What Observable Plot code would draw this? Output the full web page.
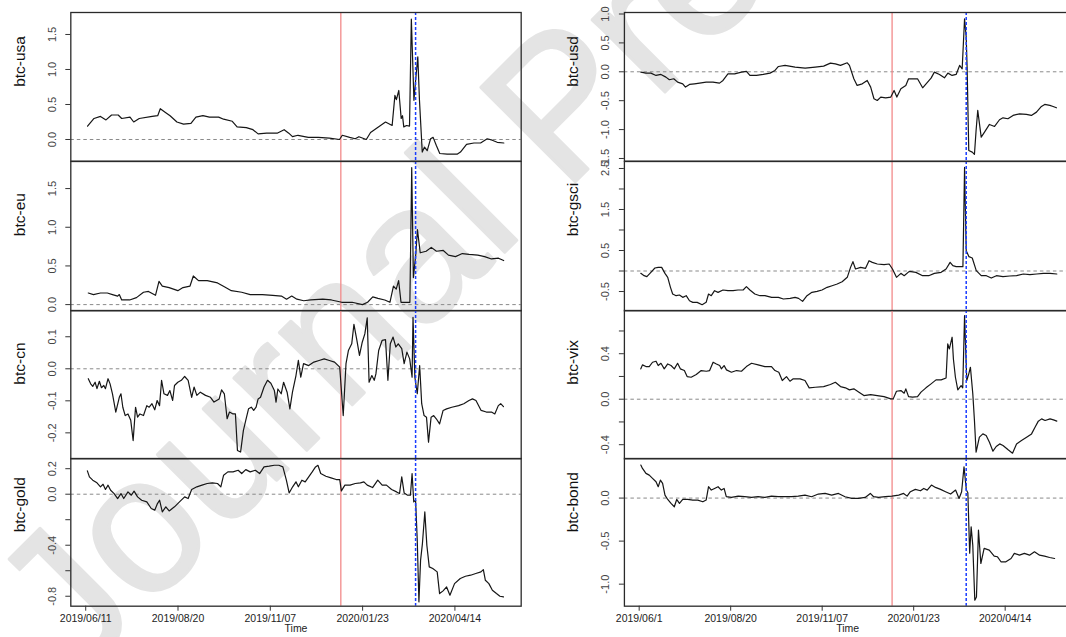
<!DOCTYPE html>
<html>
<head>
<meta charset="utf-8">
<script src="https://cdn.jsdelivr.net/npm/d3@7"></script>
<script src="https://cdn.jsdelivr.net/npm/@observablehq/plot@0.6"></script>
<style>
  html, body { margin: 0; padding: 0; background: #fff; }
  body { width: 1066px; height: 637px; overflow: hidden; position: relative; font-family: "Liberation Sans", Arial, sans-serif; }
  #wm { position: absolute; left: 0; top: 0; pointer-events: none; }
  #chart { position: absolute; left: 0; top: 0; width: 1066px; height: 637px; }
</style>
</head>
<body>
<svg id="wm" width="1066" height="637">
  <text transform="translate(76,681) rotate(-45)" font-size="194" font-weight="normal" font-family="Liberation Sans, Arial, sans-serif" fill="#e4e4e4" stroke="#e4e4e4" stroke-width="3" stroke-linejoin="round">Journal Pre-proof</text>
</svg>
<div id="chart"></div>
<script>
// ---- data: [observation index, value] ----
const usa = [[2,0.19],[5.5,0.30],[9,0.33],[12,0.28],[15,0.35],[18.6,0.35],[20.5,0.30],[25,0.32],[27,0.25],[30,0.30],[37,0.33],[40,0.34],[41.4,0.44],[44,0.39],[46.7,0.34],[50.4,0.25],[54,0.22],[58,0.23],[60.7,0.32],[64.5,0.34],[68,0.32],[73,0.32],[75.7,0.29],[80.4,0.26],[83,0.18],[88,0.17],[91.6,0.14],[94.4,0.08],[99,0.09],[104.7,0.09],[108.5,0.14],[111,0.09],[113,0.04],[116,0.06],[121.6,0.03],[127,0.03],[133,0.02],[138.5,0.0],[140,0.06],[144,0.03],[147,0.01],[149,0.04],[153,0.0],[155.3,0.10],[160.7,0.20],[163.4,0.25],[167,0.20],[168.5,0.63],[169.3,0.57],[170.6,0.70],[171.9,0.30],[172.6,0.34],[173.3,0.18],[174.8,0.20],[176.4,0.19],[177.4,1.72],[178.8,0.56],[179.7,0.84],[180.9,1.18],[181.8,0.56],[183.3,-0.18],[184.5,-0.11],[186,-0.16],[187.8,0.01],[189.2,0.03],[191,-0.09],[192.8,-0.20],[196.8,-0.21],[202.2,-0.21],[204,-0.18],[207.3,-0.07],[211.3,-0.05],[214.9,-0.05],[218.5,0.01],[221.2,-0.01],[223.9,-0.04],[227.5,-0.05]];

const eu = [[2.4,0.15],[5.2,0.13],[9,0.15],[12.7,0.15],[15.5,0.13],[18.3,0.11],[19.2,0.13],[20.5,0.06],[24.8,0.06],[28.5,0.09],[32.3,0.16],[35,0.17],[38.8,0.12],[40.7,0.30],[42.5,0.24],[46.2,0.22],[50.9,0.18],[53.7,0.22],[57.5,0.24],[59.3,0.37],[62.1,0.31],[66.8,0.31],[72.4,0.28],[76.1,0.23],[79.9,0.18],[85.5,0.16],[90.1,0.13],[96.7,0.13],[102.3,0.12],[107,0.11],[109.8,0.07],[112.6,0.11],[115.4,0.07],[119.1,0.05],[122.9,0.06],[129.4,0.07],[134.1,0.06],[139.7,0.03],[145.3,0.03],[150.9,0.0],[153.7,0.03],[156.5,0.10],[159.3,0.08],[163,0.06],[165.8,0.03],[167.7,0.24],[169.2,0.20],[170.5,0.31],[171.8,0.03],[175.2,0.03],[176.6,0.03],[177.6,1.77],[178.5,0.35],[179.8,0.65],[180.7,0.97],[182.2,0.67],[185.4,0.69],[188.2,0.74],[191,0.69],[194.7,0.70],[197.5,0.64],[201.3,0.62],[205,0.66],[208.7,0.65],[213.4,0.64],[217.1,0.62],[220.8,0.59],[224.6,0.60],[227.4,0.57]];

const cn = [[2.4,-0.031],[3.7,-0.047],[4.8,-0.055],[6.1,-0.042],[7.1,-0.062],[8.4,-0.039],[9.5,-0.059],[10.8,-0.052],[11.7,-0.062],[13.1,-0.031],[14.2,-0.047],[15.5,-0.078],[17.3,-0.135],[19.2,-0.089],[20.1,-0.078],[21.1,-0.12],[22.4,-0.146],[23.9,-0.141],[25.4,-0.161],[26.7,-0.224],[28,-0.12],[29.1,-0.151],[30.4,-0.141],[32.3,-0.146],[34.1,-0.115],[35.4,-0.12],[36.9,-0.109],[38.4,-0.128],[39.7,-0.099],[41,-0.115],[42.1,-0.036],[43.4,-0.078],[45.3,-0.083],[46.6,-0.068],[48.1,-0.099],[49.1,-0.052],[50.9,-0.042],[52.8,-0.036],[54.6,-0.024],[56.5,-0.036],[58.4,-0.089],[59.7,-0.057],[61.2,-0.083],[63.1,-0.073],[65.9,-0.083],[68.6,-0.089],[70.5,-0.104],[73.3,-0.094],[74.6,-0.066],[76.1,-0.078],[77.6,-0.156],[78.9,-0.135],[80.8,-0.141],[82.1,-0.141],[83.2,-0.255],[84.9,-0.26],[86.4,-0.193],[87.7,-0.161],[89.2,-0.125],[90.7,-0.12],[92,-0.13],[93.3,-0.12],[94.4,-0.094],[95.7,-0.089],[97.6,-0.057],[99.5,-0.036],[101.3,-0.045],[103.2,-0.068],[104.1,-0.104],[105.1,-0.063],[106.9,-0.078],[108.2,-0.042],[110.1,-0.073],[111.6,-0.125],[113,-0.073],[114.9,-0.021],[116.2,0.026],[117.5,-0.026],[119,0.016],[121.8,0.01],[124.6,0.021],[127.4,0.026],[130.2,0.031],[133,0.026],[135.8,0.021],[138.6,0.005],[140.5,-0.146],[142,0.016],[143.3,0.057],[145.1,0.078],[146.3,0.139],[147.9,0.089],[149.3,0.042],[150.8,0.083],[152.2,0.109],[153.5,0.159],[154.5,-0.042],[156,-0.021],[157.3,-0.036],[158.2,-0.016],[159.7,0.057],[161.6,0.089],[163.4,0.091],[164.7,-0.036],[166,0.078],[167.5,0.099],[169,0.068],[170.3,0.078],[172.2,0.063],[173.5,0.016],[175,0.052],[176.5,0.031],[177.8,-0.026],[178.3,0.161],[179.3,-0.026],[180.6,-0.078],[181.9,0.01],[183,-0.109],[184.3,-0.146],[185.6,-0.151],[186.7,-0.229],[188.1,-0.151],[189.5,-0.146],[190.9,-0.156],[192.7,-0.172],[194.6,-0.13],[196.5,-0.125],[199.3,-0.12],[203,-0.115],[205.8,-0.109],[208.6,-0.099],[210.5,-0.094],[212.4,-0.099],[215.2,-0.13],[218,-0.135],[220.8,-0.135],[222.6,-0.141],[224.5,-0.115],[225.8,-0.109],[227.3,-0.118]];

const gold = [[1.9,0.183],[3,0.136],[4.8,0.11],[7.1,0.089],[9,0.058],[10.4,0.078],[11.7,0.037],[13.1,0.071],[14.5,0.031],[16.4,0.005],[18.3,-0.034],[20.1,0.005],[21.6,-0.034],[23.9,0.018],[25.7,-0.008],[27.2,0.024],[29.1,-0.021],[31.3,-0.047],[34.1,-0.06],[36.5,-0.112],[38.4,-0.125],[39.7,-0.078],[41,-0.047],[42.5,-0.139],[44.4,-0.099],[46.2,-0.131],[49.1,-0.099],[51.8,-0.06],[54.6,-0.021],[56.5,-0.034],[58.4,0.037],[61.2,0.058],[64,0.071],[66.8,0.084],[69.6,0.089],[72.4,0.084],[74.2,0.058],[75.7,0.149],[78,0.175],[80.8,0.175],[83.6,0.188],[85.5,0.162],[87.7,0.193],[90.1,0.175],[92.9,0.188],[95.2,0.162],[97.6,0.214],[100.4,0.22],[103.2,0.227],[105.6,0.227],[107.8,0.214],[109.7,0.11],[111.2,0.01],[113.1,0.058],[114.9,0.097],[116.2,0.058],[118.1,0.11],[119.9,0.097],[121.8,0.136],[123.7,0.175],[125.5,0.214],[126.8,0.227],[128.3,0.162],[131.1,0.141],[133.9,0.128],[136.7,0.115],[138.6,0.115],[139.5,0.026],[141.4,0.071],[144.2,0.071],[147,0.084],[149.8,0.089],[151.7,0.097],[153.5,0.071],[156.4,0.052],[159.2,0.11],[161.6,0.071],[163.9,0.071],[166.7,0.037],[169.4,0.018],[171,0.005],[172.2,0.136],[173.5,0.01],[175.4,-0.008],[176.9,-0.008],[177.8,0.162],[178.7,-0.06],[179.7,-0.047],[180.6,-0.361],[181.5,-0.844],[182.4,-0.518],[183.4,-0.387],[184.7,-0.139],[185.8,-0.4],[187.1,-0.57],[189,-0.583],[191.4,-0.609],[192.7,-0.779],[194.6,-0.758],[196.5,-0.727],[198.3,-0.792],[200.8,-0.701],[203.9,-0.661],[206.7,-0.643],[209.5,-0.635],[212.3,-0.622],[215.1,-0.609],[216.4,-0.591],[217.5,-0.675],[219.4,-0.701],[221.3,-0.753],[223.5,-0.779],[225.4,-0.8],[227.3,-0.805]];

const usd = [[1.9,-0.006],[4.7,-0.023],[7.4,-0.023],[10.2,-0.063],[12.9,-0.046],[15.6,-0.092],[17.5,-0.138],[19.9,-0.121],[22,-0.179],[24.8,-0.208],[26.3,-0.265],[28.5,-0.219],[31.2,-0.208],[34,-0.196],[37.6,-0.179],[41.3,-0.179],[44.9,-0.196],[46.8,-0.15],[49.5,-0.035],[53.2,-0.035],[56.9,-0.006],[59.6,0.006],[61.5,-0.063],[65.1,-0.063],[68.8,-0.046],[72.5,-0.023],[75.2,0.023],[77.1,0.092],[80.7,0.11],[86.2,0.081],[91.7,0.063],[97.2,0.081],[101.8,0.098],[105.5,0.15],[108.2,0.138],[111,0.11],[114.7,0.156],[115.9,0.11],[118.3,-0.121],[120.1,-0.236],[122.9,-0.208],[125.6,-0.15],[127.5,-0.265],[129.3,-0.467],[131.1,-0.496],[133,-0.438],[135.7,-0.45],[138.5,-0.438],[140.3,-0.323],[141.8,-0.438],[144,-0.294],[146.7,-0.236],[148.2,-0.121],[150.8,-0.121],[153.1,-0.121],[155.9,-0.277],[158.6,-0.179],[160.5,-0.11],[162.3,-0.006],[165.1,-0.046],[167.8,-0.104],[169.7,-0.023],[172,-0.063],[174.2,-0.046],[176.1,0.11],[177.5,0.052],[178.8,0.917],[179.7,0.6],[180.2,0.081],[181.1,-1.361],[183,-1.39],[184.2,-1.43],[185.1,-1.015],[186,-0.669],[187.9,-1.13],[189.7,-1.044],[192.4,-0.911],[195.2,-0.946],[197.9,-0.83],[199.8,-0.796],[202.5,-0.813],[205.3,-0.755],[208.9,-0.727],[212.6,-0.738],[215.3,-0.755],[218.1,-0.698],[220.8,-0.6],[222.6,-0.565],[225.4,-0.582],[227.2,-0.6],[229,-0.623]];

const gsci = [[1.9,-0.057],[3.7,-0.114],[5.2,-0.138],[7.4,-0.033],[9.6,0.073],[11.4,0.089],[13.3,0.089],[15.1,-0.057],[16.6,-0.154],[18.1,-0.398],[19.3,-0.561],[21.2,-0.602],[23,-0.585],[24.8,-0.642],[26.7,-0.602],[28.5,-0.724],[30.3,-0.764],[32.7,-0.764],[35.4,-0.821],[37.6,-0.764],[38.9,-0.561],[40.4,-0.602],[42.2,-0.48],[44.1,-0.52],[46.8,-0.463],[49.5,-0.48],[52.3,-0.48],[55,-0.463],[57.8,-0.463],[59.6,-0.382],[61.5,-0.463],[64.2,-0.561],[67,-0.602],[69.7,-0.602],[73.4,-0.642],[77.1,-0.642],[79.8,-0.683],[83.5,-0.667],[86.2,-0.642],[88.1,-0.667],[90.3,-0.74],[92.7,-0.602],[95.4,-0.52],[98.2,-0.496],[100.9,-0.463],[103.7,-0.398],[106.4,-0.358],[109.2,-0.317],[111.9,-0.26],[114.7,-0.154],[116.5,0.089],[117.8,0.228],[119.2,0.049],[122,0.089],[124.7,0.065],[126.6,0.252],[128.4,0.211],[131.1,0.171],[134.8,0.154],[137.6,0.171],[139.4,0.049],[141.6,-0.154],[144,-0.057],[145.8,-0.114],[148.6,-0.008],[152.2,-0.033],[155.9,-0.114],[159.2,-0.114],[162.3,-0.057],[166,-0.033],[168.7,0.049],[170.9,0.211],[172.4,0.13],[174.2,0.106],[177.9,0.106],[178.8,2.528],[179.7,0.496],[181.2,0.35],[183,0.317],[185.2,0.008],[187.9,-0.114],[190.7,-0.114],[193.4,-0.171],[196.2,-0.114],[199.8,-0.138],[203.5,-0.122],[207.2,-0.114],[210.9,-0.073],[214.5,-0.089],[218.2,-0.073],[221.9,-0.057],[225.5,-0.057],[229.2,-0.073]];

const vix = [[1.9,0.267],[2.8,0.302],[4.7,0.287],[6.5,0.287],[8.3,0.325],[10.2,0.334],[11.4,0.296],[12.9,0.316],[14.7,0.267],[16.6,0.31],[18.4,0.296],[20.2,0.267],[22,0.316],[23.5,0.267],[25.7,0.252],[27.2,0.199],[29.4,0.193],[32.2,0.217],[34.9,0.252],[37.7,0.246],[39.5,0.252],[41.4,0.325],[43.2,0.31],[45,0.296],[45.9,0.267],[47.4,0.296],[48.7,0.258],[51.4,0.237],[54.2,0.252],[56.9,0.246],[59.6,0.287],[62.4,0.316],[66,0.302],[69.7,0.287],[73.3,0.287],[75.2,0.252],[77.3,0.237],[79.2,0.164],[81.5,0.199],[83.4,0.158],[85.2,0.179],[88.9,0.179],[91.6,0.164],[93.9,0.1],[97.2,0.105],[101.8,0.111],[105.5,0.129],[108.2,0.149],[111,0.111],[113.7,0.1],[115.9,0.082],[118.3,0.091],[121.1,0.062],[123.8,0.032],[127.5,0.041],[131.1,0.032],[134.8,0.023],[138.5,0.003],[139.8,0.003],[141.6,0.07],[144,0.076],[145.8,0.053],[146.7,0.091],[148.2,0.023],[150.4,0.018],[153.1,0.023],[155,0.062],[157.7,0.1],[160.5,0.135],[163.2,0.17],[166,0.17],[168.7,0.187],[169.6,0.486],[170.5,0.442],[172,0.545],[172.7,0.354],[173.8,0.193],[175.1,0.082],[176.9,0.12],[177.8,0.1],[178.8,0.735],[180,0.164],[181.1,0.223],[182,0.281],[183.3,0.047],[184.2,-0.187],[185.1,-0.466],[186.9,-0.334],[188.8,-0.305],[190.6,-0.319],[192.4,-0.378],[194.3,-0.457],[196.1,-0.416],[198,-0.393],[199.8,-0.407],[202.6,-0.445],[205,-0.475],[207.2,-0.393],[209.9,-0.363],[212.7,-0.334],[215.4,-0.305],[217.3,-0.246],[219.1,-0.193],[220.9,-0.173],[222.8,-0.187],[225.5,-0.173],[227.4,-0.182],[229.2,-0.193]];

const bond = [[1.9,0.384],[2.8,0.345],[4.7,0.287],[6.5,0.267],[8.3,0.229],[10.2,0.19],[11.4,0.132],[12.6,0.209],[13.8,0.171],[15.1,0.035],[16.6,-0.016],[18.4,-0.062],[20.2,-0.101],[21.5,-0.016],[23,-0.062],[24.8,-0.016],[27.5,-0.016],[30.3,-0.023],[33,-0.023],[35.8,-0.043],[37.6,-0.023],[38.9,0.132],[40.4,0.093],[42.2,0.112],[44.1,0.132],[45.9,0.093],[47.4,0.112],[48.6,0.016],[51.4,0.008],[55.1,0.023],[58.7,0.016],[62.4,0.008],[66,0.016],[69.7,0.008],[73.3,0.023],[77,0.016],[80.6,0.016],[84.3,0.016],[87.9,0.023],[91.6,0.035],[95.2,0.016],[98.9,0.047],[102.6,0.054],[106.2,0.035],[109.9,0.054],[113.5,0.016],[117.2,-0.004],[120.8,-0.004],[124.5,0.008],[127.3,0.054],[129.1,0.016],[131.8,0.008],[135.5,0.016],[139.1,0.023],[142.8,0.035],[145.5,0.054],[147.4,0.023],[149.2,0.074],[151.9,0.101],[154.7,0.085],[156.5,0.112],[158.4,0.093],[160.7,0.151],[162.9,0.124],[165.7,0.101],[168.4,0.074],[171.2,0.047],[173.9,0.093],[175.8,-0.004],[177.2,0.074],[178.5,0.364],[179.8,0.093],[180.6,0.062],[181.6,-0.64],[182.4,-0.333],[183.3,-0.55],[184.4,-1.186],[185.3,-1.15],[186.4,-0.372],[187.7,-0.76],[189.5,-0.585],[192.3,-0.605],[195,-0.674],[196.8,-0.682],[198.7,-0.74],[201.4,-0.74],[204.2,-0.702],[206,-0.643],[208.8,-0.663],[211.5,-0.643],[214.3,-0.663],[217,-0.624],[219.8,-0.663],[222.5,-0.674],[225.3,-0.69],[228,-0.702]];

// event markers (observation index)
const redEvent = [139.2];
const blueEvent = [179.7];

// x ticks
const xTicks = [1, 51, 101, 151, 201];
const xLabelsLeft = ["2019/06/11", "2019/08/20", "2019/11/07", "2020/01/23", "2020/04/14"];
const xLabelsRight = ["2019/06/1", "2019/08/20", "2019/11/07", "2020/01/23", "2020/04/14"];
const xDomain = [-7.07, 236.9];

// y ticks per panel and which ones carry a label
const panels = [
  {name: "btc-usa",  data: usa,  col: 0, row: 0, domain: [-0.31, 1.814], ticks: [0, 0.5, 1, 1.5], labeled: [0, 0.5, 1, 1.5]},
  {name: "btc-eu",   data: eu,   col: 0, row: 1, domain: [-0.08, 1.85],  ticks: [0, 0.5, 1, 1.5], labeled: [0, 0.5, 1, 1.5]},
  {name: "btc-cn",   data: cn,   col: 0, row: 2, domain: [-0.281, 0.182], ticks: [-0.2, -0.1, 0, 0.1], labeled: [-0.2, -0.1, 0, 0.1]},
  {name: "btc-gold", data: gold, col: 0, row: 3, domain: [-0.878, 0.28], ticks: [-0.8, -0.6, -0.4, -0.2, 0, 0.2], labeled: [-0.8, -0.4, 0, 0.2]},
  {name: "btc-usd",  data: usd,  col: 1, row: 0, domain: [-1.547, 1.026], ticks: [-1.5, -1, -0.5, 0, 0.5, 1], labeled: [-1.5, -1, -0.5, 0, 0.5, 1]},
  {name: "btc-gsci", data: gsci, col: 1, row: 1, domain: [-0.97, 2.67], ticks: [-0.5, 0, 0.5, 1, 1.5, 2, 2.5], labeled: [-0.5, 0.5, 1.5, 2.5]},
  {name: "btc-vix",  data: vix,  col: 1, row: 2, domain: [-0.524, 0.78], ticks: [-0.4, -0.2, 0, 0.2, 0.4, 0.6], labeled: [-0.4, 0, 0.4]},
  {name: "btc-bond", data: bond, col: 1, row: 3, domain: [-1.256, 0.46], ticks: [-1, -0.5, 0], labeled: [-1, -0.5, 0]}
];

// layout (pixels)
const rowEdges = [12, 160.7, 310, 458.3, 606];
const colLeft = [0, 540];
const colWidth = [540, 526];
const colMarginLeft = [70.3, 83.9];
const colFrameWidth = [450.4, 446.5];

const chart = document.getElementById("chart");

for (const p of panels) {
  const bottom = p.row === 3;
  const mt = 12, mb = bottom ? 31 : 12;
  const top = rowEdges[p.row], bot = rowEdges[p.row + 1];
  const w = colWidth[p.col];
  const ml = colMarginLeft[p.col];
  const mr = w - ml - colFrameWidth[p.col];
  const xLabels = p.col === 0 ? xLabelsLeft : xLabelsRight;
  const fmt = d => p.labeled.some(v => Math.abs(v - d) < 1e-9) ? d.toFixed(1) : "";
  const marks = [
    Plot.ruleY([0], {stroke: "#8a8a8a", strokeWidth: 1, strokeDasharray: "3.5,3"}),
    Plot.ruleX(redEvent, {stroke: "#f28a8a", strokeWidth: 1.3}),
    Plot.line(p.data, {x: d => d[0], y: d => d[1], stroke: "#161616", strokeWidth: 1.2}),
    Plot.ruleX(blueEvent, {stroke: "#1a3cff", strokeWidth: 1.5, strokeDasharray: "3,2"}),
    Plot.frame({stroke: "#2a2a2a", strokeWidth: 1.3}),
    Plot.axisY(p.ticks, {tickSize: 5, tickRotate: -90, tickPadding: 10, tickFormat: fmt, fontSize: 11, label: null, stroke: "#333", fill: "#444"}),
    Plot.text([p.name], {text: d => d, frameAnchor: "left", rotate: -90, dx: -51, fontSize: 15.5, fill: "#111"})
  ];
  if (bottom) {
    marks.push(Plot.axisX(xTicks, {tickSize: 5, tickPadding: 3, tickFormat: d => xLabels[xTicks.indexOf(d)], fontSize: 10.5, label: null, stroke: "#333", fill: "#222"}));
    marks.push(Plot.text(["Time"], {text: d => d, frameAnchor: "bottom", dy: 25.5, fontSize: 10.5, fill: "#222"}));
  }
  const svg = Plot.plot({
    width: w,
    height: (bot - top) + mt + mb,
    marginTop: mt, marginBottom: mb, marginLeft: ml, marginRight: mr,
    x: {domain: xDomain, axis: bottom ? undefined : null, label: null},
    y: {domain: p.domain, label: null},
    style: {background: "transparent", overflow: "visible", fontFamily: "'Liberation Sans', Arial, sans-serif", color: "#222"},
    marks
  });
  svg.style.position = "absolute";
  svg.style.left = colLeft[p.col] + "px";
  svg.style.top = (top - mt) + "px";
  chart.appendChild(svg);
}
</script>
</body>
</html>
